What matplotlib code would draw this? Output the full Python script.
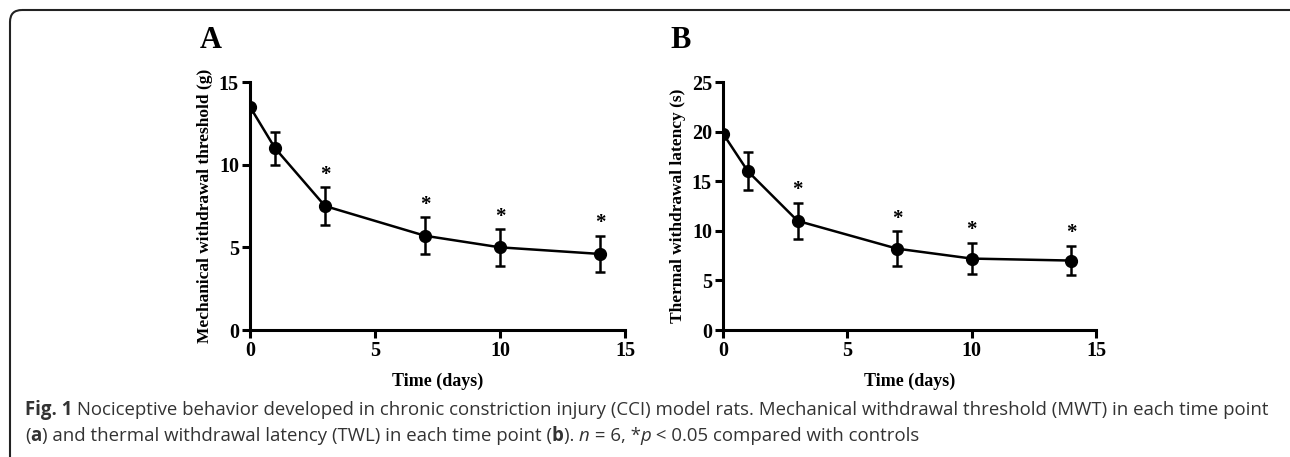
import numpy as np
import matplotlib
matplotlib.use('Agg')
import matplotlib.pyplot as plt
from matplotlib.patches import FancyBboxPatch

# data (mean +/- error)
days = [0, 1, 3, 7, 10, 14]
mwt = [13.5, 11.0, 7.5, 5.7, 5.0, 4.6]
mwt_err = [0.0, 1.0, 1.15, 1.12, 1.1, 1.1]
twl = [19.8, 16.0, 11.0, 8.2, 7.2, 7.0]
twl_err = [0.0, 1.9, 1.85, 1.75, 1.6, 1.5]
signif = [False, False, True, True, True, True]

panels = [
    dict(letter='A', y=mwt, err=mwt_err, ylabel='Mechanical withdrawal threshold (g)',
         ylim=15, yticks=[0, 5, 10, 15], star_off=0.75),
    dict(letter='B', y=twl, err=twl_err, ylabel='Thermal withdrawal latency (s)',
         ylim=25, yticks=[0, 5, 10, 15, 20, 25], star_off=1.25),
]

W, H = 1290, 457
fig = plt.figure(figsize=(W / 100, H / 100), dpi=100)
serif = 'Liberation Serif'

# frame round the whole figure (pixel coords)
bg = fig.add_axes([0, 0, 1, 1])
bg.set_xlim(0, W)
bg.set_ylim(H, 0)
bg.axis('off')
bg.add_patch(FancyBboxPatch((10, 10), W + 40, H + 40,
                            boxstyle='round,pad=0,rounding_size=12',
                            fc='none', ec='#222222', lw=1.5))

ax_px = [(250, 625), (723, 1096)]
letter_px = [200, 670]
top_px, bot_px = 82, 330

for (x0, x1), lx, p in zip(ax_px, letter_px, panels):
    ax = fig.add_axes([x0 / W, 1 - bot_px / H, (x1 - x0) / W, (bot_px - top_px) / H])
    ax.errorbar(days, p['y'], yerr=p['err'], color='black', lw=1.8,
                marker='o', ms=8.5, elinewidth=1.8, capsize=3.5, capthick=1.8)
    for d, v, e, s in zip(days, p['y'], p['err'], signif):
        if s:
            ax.text(d, v + e + p['star_off'], '*', ha='center', va='center',
                    family=serif, fontweight='bold', fontsize=15)
    ax.set_xlim(0, 15)
    ax.set_ylim(0, p['ylim'])
    ax.set_xticks([0, 5, 10, 15])
    ax.set_yticks(p['yticks'])
    for side in ['top', 'right']:
        ax.spines[side].set_visible(False)
    for side in ['left', 'bottom']:
        ax.spines[side].set_linewidth(2.2)
    ax.tick_params(width=2.2, length=6, direction='out', labelsize=14.5, pad=2)
    for lab in ax.get_xticklabels() + ax.get_yticklabels():
        lab.set_family(serif)
        lab.set_fontweight('bold')
    ax.set_xlabel('Time (days)', family=serif, fontweight='bold', fontsize=13, labelpad=8)
    ax.set_ylabel(p['ylabel'], family=serif, fontweight='bold', fontsize=12.5, labelpad=4)
    fig.text(lx / W, 1 - 40 / H, p['letter'], family=serif,
             fontweight='bold', fontsize=22, va='center', ha='left')
    ax.patch.set_alpha(0)

# caption, drawn piece by piece
cap_font = ['Open Sans', 'DejaVu Sans']
cap_col = '#333333'
line1 = [('Fig. 1', 'bold', 'normal'),
         (' Nociceptive behavior developed in chronic constriction injury (CCI) model rats. '
          'Mechanical withdrawal threshold (MWT) in each time point', 'normal', 'normal')]
line2 = [('(', 'normal', 'normal'), ('a', 'bold', 'normal'),
         (') and thermal withdrawal latency (TWL) in each time point (', 'normal', 'normal'),
         ('b', 'bold', 'normal'), ('). ', 'normal', 'normal'), ('n', 'normal', 'italic'),
         (' = 6, *', 'normal', 'normal'), ('p', 'normal', 'italic'),
         (' < 0.05 compared with controls', 'normal', 'normal')]

renderer = fig.canvas.get_renderer()


def draw_line(pieces, x, y, size):
    for txt, wt, st in pieces:
        t = fig.text(x / W, 1 - y / H, txt, family=cap_font, fontweight=wt,
                     fontstyle=st, fontsize=size, color=cap_col, va='baseline')
        x += t.get_window_extent(renderer).width
    return x


draw_line(line1, 25, 415, 13.4)
draw_line(line2, 25, 441, 13.4)

fig.savefig('out.png', dpi=100)
